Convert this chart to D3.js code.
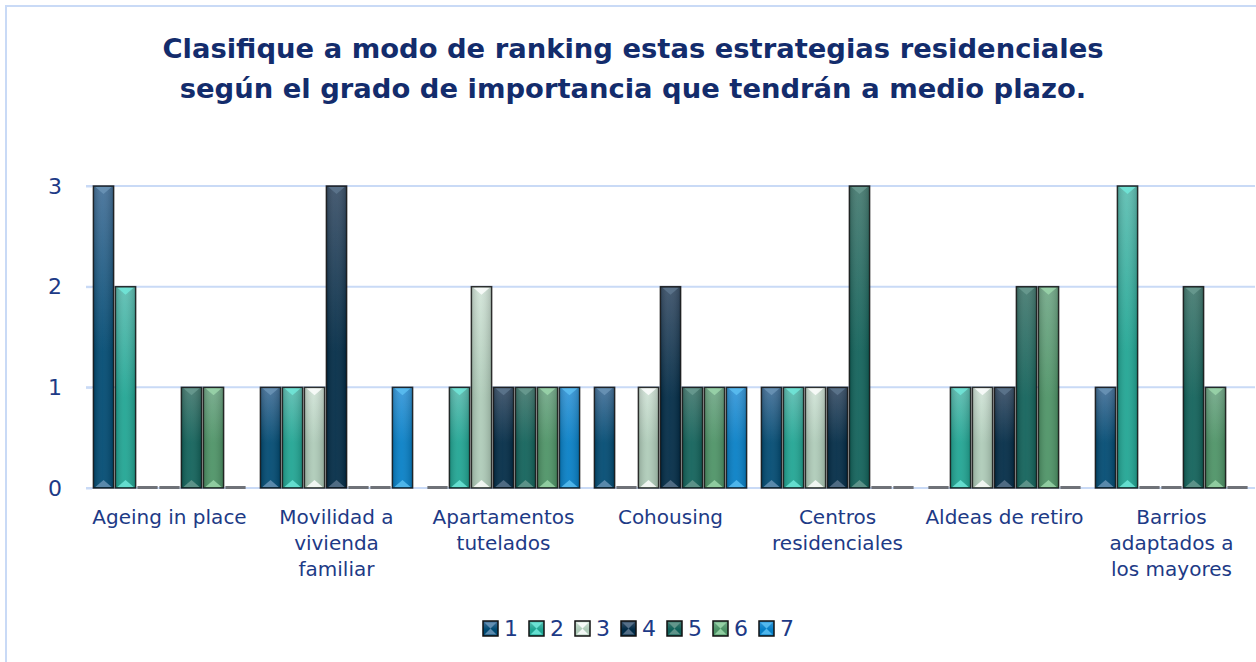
<!DOCTYPE html>
<html>
<head>
<meta charset="utf-8">
<script src="https://cdn.jsdelivr.net/npm/d3@7"></script>
<style>
  body { margin: 0; background: #fff; }
  text { font-family: "DejaVu Sans", Arial, sans-serif; }
</style>
</head>
<body>
<script>
var svgWidth = 1256;
var svgHeight = 662;

// data
var categories = [
  ["Ageing in place"],
  ["Movilidad a", "vivienda", "familiar"],
  ["Apartamentos", "tutelados"],
  ["Cohousing"],
  ["Centros", "residenciales"],
  ["Aldeas de retiro"],
  ["Barrios", "adaptados a", "los mayores"]
];
var series = ["1", "2", "3", "4", "5", "6", "7"];
var s1 = [3, 1, 0, 1, 1, 0, 1];
var s2 = [2, 1, 1, 0, 1, 1, 3];
var s3 = [0, 1, 2, 1, 1, 1, 0];
var s4 = [0, 3, 1, 2, 1, 1, 0];
var s5 = [1, 0, 1, 1, 3, 2, 2];
var s6 = [1, 0, 1, 1, 0, 2, 1];
var s7 = [0, 1, 1, 1, 0, 0, 0];
var yTicks = [0, 1, 2, 3];

// top colour, bottom colour, bevel colour
var colors = [
  ["#46729a", "#004a72", "#6d96b8"],
  ["#5fbfb3", "#20a593", "#72eadc"],
  ["#d2e4d8", "#aecbb8", "#ffffff"],
  ["#3c526a", "#012b46", "#5f7890"],
  ["#477c72", "#11625a", "#6c9c92"],
  ["#74aa8a", "#4d9366", "#9ed8ac"],
  ["#3899da", "#067fc6", "#5cc0f2"]
];

var values = [s1, s2, s3, s4, s5, s6, s7];
var catKeys = categories.map(function(c) { return c.join(" "); });

var svg = d3.select("body")
  .append("svg")
  .attr("width", svgWidth)
  .attr("height", svgHeight);

var defs = svg.append("defs");
colors.forEach(function(c, i) {
  var g = defs.append("linearGradient")
    .attr("id", "grad" + i)
    .attr("x1", 0).attr("y1", 0).attr("x2", 0).attr("y2", 1);
  g.append("stop").attr("offset", "0%").attr("stop-color", c[0]);
  g.append("stop").attr("offset", "55%").attr("stop-color", c[1]);
  g.append("stop").attr("offset", "100%").attr("stop-color", c[1]);
});
var hg = defs.append("linearGradient")
  .attr("id", "shine")
  .attr("x1", 0).attr("y1", 0).attr("x2", 1).attr("y2", 0);
hg.append("stop").attr("offset", "0%").attr("stop-color", "#000").attr("stop-opacity", 0.18);
hg.append("stop").attr("offset", "45%").attr("stop-color", "#fff").attr("stop-opacity", 0.06);
hg.append("stop").attr("offset", "100%").attr("stop-color", "#000").attr("stop-opacity", 0.18);

// outer frame
svg.append("path")
  .attr("d", "M6," + svgHeight + "V6H" + svgWidth)
  .attr("fill", "none")
  .attr("stroke", "#c9daf6")
  .attr("stroke-width", 2);

// title
svg.append("text")
  .attr("x", 633).attr("y", 58)
  .attr("text-anchor", "middle")
  .attr("font-size", 27.4).attr("font-weight", "bold")
  .attr("fill", "#132c6c")
  .text("Clasifique a modo de ranking estas estrategias residenciales");
svg.append("text")
  .attr("x", 633).attr("y", 98)
  .attr("text-anchor", "middle")
  .attr("font-size", 27.4).attr("font-weight", "bold")
  .attr("fill", "#132c6c")
  .text("según el grado de importancia que tendrán a medio plazo.");

var x0 = d3.scaleBand()
  .domain(catKeys)
  .range([86, 1255])
  .paddingInner(0.078)
  .paddingOuter(0.039);

var x1 = d3.scaleBand()
  .domain(series)
  .range([0, x0.bandwidth()])
  .paddingInner(0.08)
  .paddingOuter(0.04);

var y = d3.scaleLinear()
  .domain([0, 3])
  .range([488, 186]);

// gridlines
svg.append("g")
  .selectAll("line")
  .data(yTicks)
  .enter().append("line")
  .attr("x1", 86).attr("x2", 1255)
  .attr("y1", function(d) { return y(d); })
  .attr("y2", function(d) { return y(d); })
  .attr("stroke", "#c9daf6")
  .attr("stroke-width", 2);

// y axis
var leftAxis = d3.axisLeft(y).tickValues(yTicks).tickFormat(d3.format("d")).tickSize(6).tickPadding(24);
var ya = svg.append("g")
  .attr("transform", "translate(92,0)")
  .call(leftAxis);
ya.select(".domain").remove();
ya.selectAll(".tick line").attr("stroke", "#c9daf6").attr("stroke-width", 2);
ya.selectAll(".tick text")
  .attr("font-size", 22)
  .attr("font-family", "DejaVu Sans, Arial, sans-serif")
  .attr("fill", "#1d3a86");

// bars
var groups = svg.append("g")
  .selectAll("g")
  .data(catKeys)
  .enter().append("g")
  .attr("transform", function(d) { return "translate(" + x0(d) + ",0)"; });

groups.each(function(cat, ci) {
  var g = d3.select(this);
  series.forEach(function(s, si) {
    var v = values[si][ci];
    var bx = x1(s);
    var bw = x1.bandwidth();
    if (v === 0) {
      g.append("rect")
        .attr("x", bx).attr("y", y(0) - 2)
        .attr("width", bw).attr("height", 3)
        .attr("fill", "#6f7278");
      return;
    }
    var top = y(v);
    var h = y(0) - top;
    g.append("rect")
      .attr("x", bx).attr("y", top)
      .attr("width", bw).attr("height", h)
      .attr("fill", "url(#grad" + si + ")");
    g.append("rect")
      .attr("x", bx).attr("y", top)
      .attr("width", bw).attr("height", h)
      .attr("fill", "url(#shine)");
    g.append("path")
      .attr("d", "M" + (bx + 2) + "," + (top + 1) + "H" + (bx + bw - 2) +
        "L" + (bx + bw / 2) + "," + (top + 8) + "Z")
      .attr("fill", colors[si][2]).attr("opacity", 0.8);
    g.append("path")
      .attr("d", "M" + (bx + 2) + "," + (y(0) - 1) + "H" + (bx + bw - 2) +
        "L" + (bx + bw / 2) + "," + (y(0) - 8) + "Z")
      .attr("fill", colors[si][2]).attr("opacity", 0.8);
    g.append("rect")
      .attr("x", bx).attr("y", top)
      .attr("width", bw).attr("height", h)
      .attr("fill", "none")
      .attr("stroke", "#111")
      .attr("stroke-opacity", 0.85)
      .attr("stroke-width", 1.5);
  });
});

// category labels
categories.forEach(function(lines, i) {
  var cx = x0(catKeys[i]) + x0.bandwidth() / 2;
  var t = svg.append("text")
    .attr("text-anchor", "middle")
    .attr("font-size", 20)
    .attr("fill", "#1d3a86");
  lines.forEach(function(l, li) {
    t.append("tspan")
      .attr("x", cx)
      .attr("y", 524 + li * 26)
      .text(l);
  });
});

// legend
var legend = svg.append("g")
  .selectAll("g")
  .data(series)
  .enter().append("g")
  .attr("transform", function(d, i) { return "translate(" + (483 + i * 46) + ",621)"; });

legend.append("rect")
  .attr("width", 15).attr("height", 15)
  .attr("fill", function(d, i) { return "url(#grad" + i + ")"; })
  .attr("stroke", "#111").attr("stroke-width", 1.5);
legend.append("path")
  .attr("d", "M1.5,1.5H13.5L7.5,7.5Z M1.5,13.5H13.5L7.5,7.5Z")
  .attr("fill", function(d, i) { return colors[i][2]; })
  .attr("opacity", 0.85);
legend.append("text")
  .attr("x", 21).attr("y", 15)
  .attr("font-size", 22)
  .attr("fill", "#1d3a86")
  .text(function(d) { return d; });
</script>
</body>
</html>
